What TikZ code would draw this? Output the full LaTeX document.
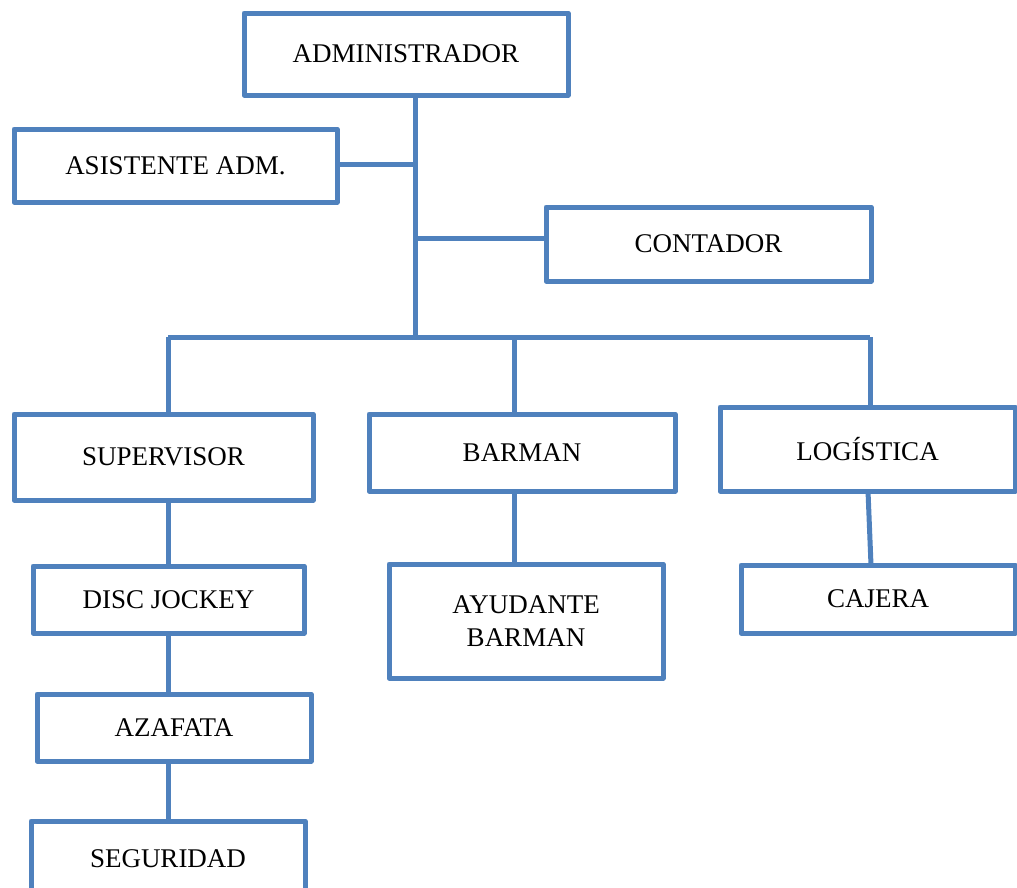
\documentclass[tikz,border=0pt]{standalone}
\usepackage{fontspec}
\setmainfont{Liberation Serif}
\definecolor{orgblue}{HTML}{4F81BD}
\begin{document}
\begin{tikzpicture}[x=1pt,y=-1pt,
  box/.style={draw=orgblue, line width=5pt, line join=round, fill=white, inner sep=0pt, outer sep=0pt,
    font=\fontsize{27}{33}\selectfont, align=center, text=black},
  link/.style={draw=orgblue, line width=5pt}]
\useasboundingbox (0,0) rectangle (1017,887);
\node[box, minimum width=324pt, minimum height=82pt] (adm) at (406,54) {ADMINISTRADOR};
\node[box, minimum width=323pt, minimum height=73pt] (asis) at (175.5,165.5) {ASISTENTE ADM.};
\node[box, minimum width=325pt, minimum height=74pt] (cont) at (708.5,244) {CONTADOR};
\node[box, minimum width=299pt, minimum height=86pt] (sup) at (163.5,457) {SUPERVISOR};
\node[box, minimum width=306pt, minimum height=77pt] (bar) at (522,452.5) {BARMAN};
\node[box, minimum width=295pt, minimum height=84pt] (log) at (867.5,449) {LOGÍSTICA};
\node[box, minimum width=271pt, minimum height=67pt] (dj) at (168.5,599.5) {DISC JOCKEY};
\node[box, minimum width=274pt, minimum height=114pt] (ayu) at (526,621) {AYUDANTE\\BARMAN};
\node[box, minimum width=274pt, minimum height=68pt] (caj) at (878,599) {CAJERA};
\node[box, minimum width=274pt, minimum height=67pt] (aza) at (174,727.5) {AZAFATA};
\node[box, minimum width=274pt, minimum height=76pt] (seg) at (168,859) {SEGURIDAD};
\coordinate (trunk) at (415,332);
\coordinate (busL) at (168,337);
\coordinate (busR) at (870,337);
\coordinate (barx) at (514,337);
\draw[link] (adm.south -| trunk) -- (trunk |- busL);
\draw[link] ([yshift=1pt]asis.east) -- ([yshift=1pt]asis.east -| trunk);
\draw[link] ([yshift=6pt]cont.west) -- ([yshift=6pt]cont.west -| trunk);
\draw[link] (busL) -- (busR);
\draw[link] (busL) -- (sup.north -| busL);
\draw[link] (barx) -- (bar.north -| barx);
\draw[link] (busR) -- (log.north -| busR);
\draw[link] (sup.south -| busL) -- (dj.north -| busL);
\draw[link] (bar.south -| barx) -- (ayu.north -| barx);
\draw[link] ([xshift=0.5pt]log.south) -- ([xshift=-7pt]caj.north);
\draw[link] (dj.south -| busL) -- (aza.north -| busL);
\draw[link] (aza.south -| busL) -- (seg.north -| busL);
\end{tikzpicture}
\end{document}
